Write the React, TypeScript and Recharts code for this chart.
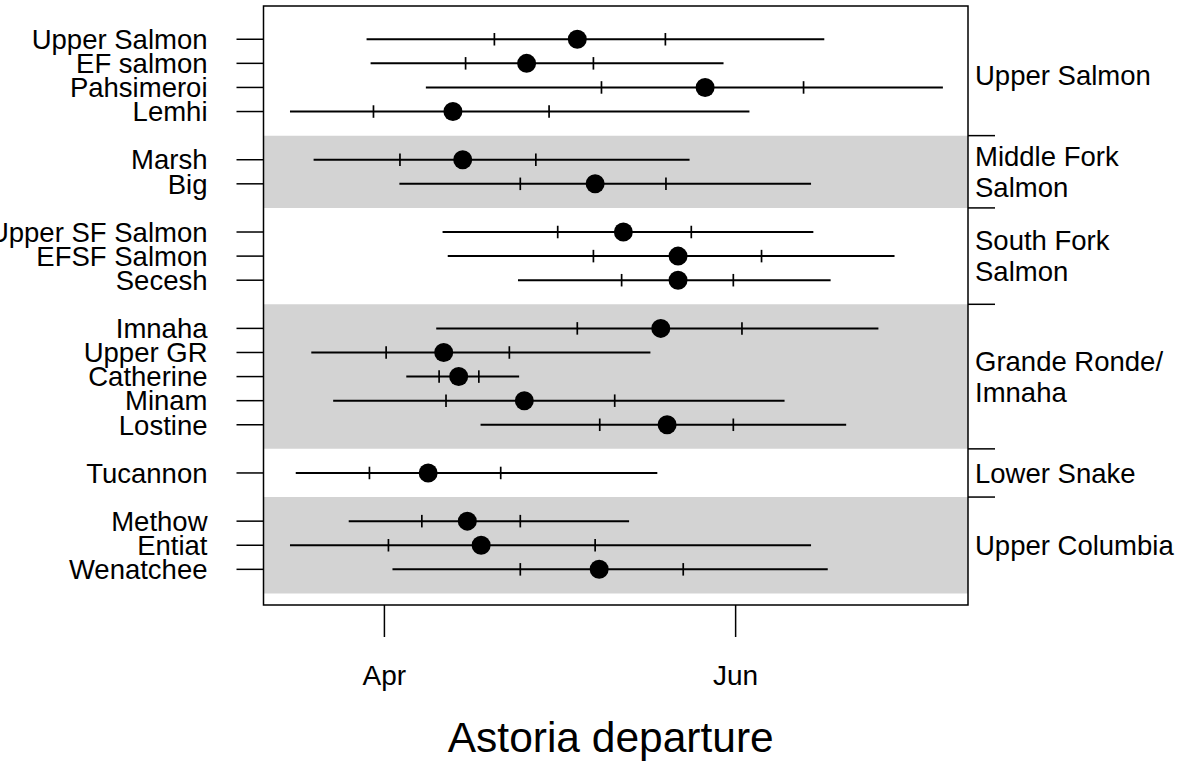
import React from "react";
import {
  ScatterChart,
  Scatter,
  XAxis,
  YAxis,
  ReferenceArea,
  ReferenceLine,
} from "recharts";

const FONT = "'Liberation Sans', Arial, sans-serif";

const sites = [
  "Upper Salmon", "EF salmon", "Pahsimeroi", "Lemhi",
  "Marsh", "Big",
  "Upper SF Salmon", "EFSF Salmon", "Secesh",
  "Imnaha", "Upper GR", "Catherine", "Minam", "Lostine",
  "Tucannon",
  "Methow", "Entiat", "Wenatchee",
];
// row slot of each site, top to bottom (gaps between groups)
const rows = [1, 2, 3, 4, 6, 7, 9, 10, 11, 13, 14, 15, 16, 17, 19, 21, 22, 23];

// day of year (91 = Apr 1, 152 = Jun 1)
const lows = [87.9, 88.6, 98.2, 74.6, 78.7, 93.6, 101.1, 102.0, 114.2, 100.0, 78.3, 94.8, 82.1, 107.7, 75.6, 84.8, 74.6, 92.4];
const q25 = [110.1, 105.1, 128.7, 89.1, 93.7, 114.6, 121.1, 127.3, 132.2, 124.5, 91.3, 100.5, 101.7, 128.4, 88.4, 97.5, 91.7, 114.6];
const medians = [124.5, 115.7, 146.7, 102.9, 104.6, 127.6, 132.5, 142.0, 142.0, 139.0, 101.3, 103.9, 115.3, 140.1, 98.6, 105.4, 107.8, 128.3];
const q75 = [139.8, 127.3, 163.8, 119.6, 117.3, 139.9, 144.3, 156.5, 151.6, 153.1, 112.7, 107.4, 131.0, 151.6, 111.2, 114.6, 127.6, 142.9];
const highs = [167.4, 149.9, 188.0, 154.4, 144.0, 165.1, 165.5, 179.6, 168.5, 176.8, 137.2, 114.4, 160.5, 171.2, 138.4, 133.5, 165.1, 168.0];

const monthTicks = [91, 152];
const monthLabels = ["Apr", "Jun"];

const groupLines = [
  ["Upper Salmon"],
  ["Middle Fork", "Salmon"],
  ["South Fork", "Salmon"],
  ["Grande Ronde/", "Imnaha"],
  ["Lower Snake"],
  ["Upper Columbia"],
];
const groupCenters = [2.5, 6.5, 10, 15, 19, 22];
const groupBreaks = [5, 8, 12, 18, 20];
const shadedBands = [[5, 8], [12, 18], [20, 24]];

const X_DOMAIN = [70, 192.36];
const Y_DOMAIN = [-0.38, 24.48];

const points = sites.map((s, i) => ({ site: s, row: rows[i], day: medians[i] }));

const rowName = (v) => {
  const i = rows.indexOf(v);
  return i >= 0 ? sites[i] : "";
};

const GroupTick = (props) => {
  const { x, y, payload } = props;
  const v = payload.value;
  if (groupBreaks.includes(v)) {
    return <line x1={x} x2={x + 27} y1={y} y2={y} stroke="#000" strokeWidth={1.5} />;
  }
  const lines = groupLines[groupCenters.indexOf(v)] || [];
  const start = -((lines.length - 1) / 2) * 31 + 9.8;
  return (
    <text x={x + 7} y={y} fontSize={27.5} fontFamily={FONT} fill="#000">
      {lines.map((l, k) => (
        <tspan key={k} x={x + 7} dy={k === 0 ? start : 31}>
          {l}
        </tspan>
      ))}
    </text>
  );
};

export default function App() {
  return (
    <div style={{ position: "absolute", left: 0, top: 0, background: "#fff" }}>
      <ScatterChart
        width={1177}
        height={767}
        margin={{ top: 6, right: 0, bottom: 0, left: 0 }}
      >
        <XAxis
          type="number"
          dataKey="day"
          domain={X_DOMAIN}
          allowDataOverflow
          ticks={monthTicks}
          interval={0}
          tickFormatter={(v) => monthLabels[monthTicks.indexOf(v)]}
          height={162}
          axisLine={false}
          tickSize={32}
          tickMargin={28}
          tickLine={{ stroke: "#000", strokeWidth: 1.5 }}
          tick={{ fill: "#000", fontSize: 28, fontFamily: FONT }}
          label={{
            value: "Astoria departure",
            position: "insideBottom",
            offset: 15,
            dx: -5,
            fill: "#000",
            fontSize: 42.5,
            fontFamily: FONT,
          }}
        />
        <YAxis
          type="number"
          dataKey="row"
          domain={Y_DOMAIN}
          allowDataOverflow
          reversed
          ticks={rows}
          interval={0}
          tickFormatter={rowName}
          width={263.5}
          axisLine={false}
          tickSize={27}
          tickMargin={29}
          tickLine={{ stroke: "#000", strokeWidth: 1.5 }}
          tick={{ fill: "#000", fontSize: 27.5, fontFamily: FONT }}
        />
        <YAxis
          yAxisId="groups"
          orientation="right"
          type="number"
          domain={Y_DOMAIN}
          allowDataOverflow
          reversed
          ticks={[...groupBreaks, ...groupCenters]}
          interval={0}
          width={209}
          axisLine={false}
          tickLine={false}
          tickSize={0}
          tickMargin={0}
          tick={<GroupTick />}
        />

        {shadedBands.map(([a, b], i) => (
          <ReferenceArea
            key={"band" + i}
            x1={X_DOMAIN[0]}
            x2={X_DOMAIN[1]}
            y1={a}
            y2={b}
            fill="#d3d3d3"
            fillOpacity={1}
            stroke="none"
            ifOverflow="visible"
          />
        ))}

        {rows.map((r, i) => (
          <ReferenceLine
            key={"range" + i}
            segment={[{ x: lows[i], y: r }, { x: highs[i], y: r }]}
            stroke="#000"
            strokeWidth={2}
          />
        ))}
        {rows.map((r, i) => (
          <ReferenceLine
            key={"q25" + i}
            segment={[{ x: q25[i], y: r - 0.26 }, { x: q25[i], y: r + 0.26 }]}
            stroke="#000"
            strokeWidth={1.7}
          />
        ))}
        {rows.map((r, i) => (
          <ReferenceLine
            key={"q75" + i}
            segment={[{ x: q75[i], y: r - 0.26 }, { x: q75[i], y: r + 0.26 }]}
            stroke="#000"
            strokeWidth={1.7}
          />
        ))}

        <Scatter
          data={points}
          isAnimationActive={false}
          shape={(p) => <circle cx={p.cx} cy={p.cy} r={9.5} fill="#000" />}
        />

        <ReferenceArea
          x1={X_DOMAIN[0]}
          x2={X_DOMAIN[1]}
          y1={Y_DOMAIN[0]}
          y2={Y_DOMAIN[1]}
          fill="none"
          stroke="#000"
          strokeWidth={1.5}
          ifOverflow="visible"
        />
      </ScatterChart>
    </div>
  );
}
